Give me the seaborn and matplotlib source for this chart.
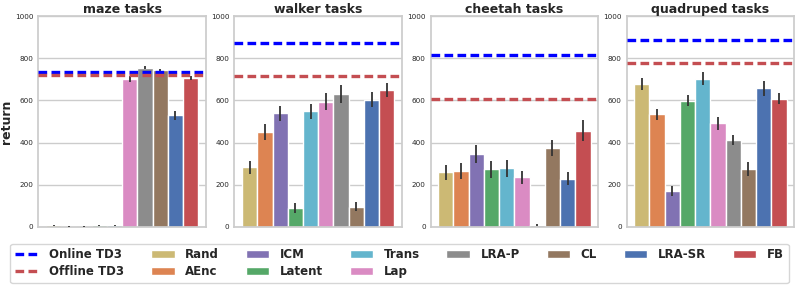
import matplotlib
matplotlib.use("Agg")
import matplotlib.pyplot as plt
from matplotlib.lines import Line2D
from matplotlib.patches import Patch
import seaborn as sns
import pandas as pd

# ---------------------------------------------------------------------------
methods = ["Rand", "AEnc", "ICM", "Latent", "Trans", "Lap", "LRA-P", "CL", "LRA-SR", "FB"]
domains = ["maze", "walker", "cheetah", "quadruped"]

maze_mean = [8, 3, 2, 7, 8, 703, 755, 745, 530, 708]
maze_err = [3, 1, 1, 3, 3, 15, 8, 6, 22, 10]
walker_mean = [282, 450, 539, 90, 549, 593, 631, 96, 603, 650]
walker_err = [30, 38, 37, 25, 36, 40, 41, 20, 35, 33]
cheetah_mean = [259, 265, 345, 273, 278, 235, 9, 375, 229, 457]
cheetah_err = [35, 36, 43, 39, 39, 31, 3, 39, 30, 50]
quadruped_mean = [677, 535, 170, 599, 703, 491, 413, 274, 658, 609]
quadruped_err = [28, 26, 22, 26, 32, 32, 25, 32, 35, 24]

online_td3 = [733, 874, 815, 886]
offline_td3 = [720, 718, 609, 778]

# ---------------------------------------------------------------------------
deep = sns.color_palette("deep")
colors = [deep[8], deep[1], deep[4], deep[2], deep[9], deep[6], deep[7], deep[5], deep[0], deep[3]]
palette = dict(zip(methods, colors))

means = [maze_mean, walker_mean, cheetah_mean, quadruped_mean]
errs = [maze_err, walker_err, cheetah_err, quadruped_err]

sns.set_theme(style="whitegrid")

fig, axes = plt.subplots(1, 4, figsize=(7.99, 2.88), dpi=100)
fig.subplots_adjust(left=0.048, right=0.994, bottom=0.212, top=0.944, wspace=0.17)

for i, ax in enumerate(axes):
    df = pd.DataFrame({"method": methods, "return": means[i]})
    sns.barplot(data=df, x="method", y="return", hue="method", order=methods,
                hue_order=methods, palette=palette, width=1, dodge=False,
                saturation=1, errorbar=None, edgecolor="white", linewidth=1,
                legend=False, ax=ax)
    ax.errorbar(x=list(range(len(methods))), y=means[i], yerr=errs[i],
                fmt="none", ecolor="0.2", elinewidth=1.3, zorder=5)
    ax.axhline(online_td3[i], color="blue", ls="--", lw=2.4, dashes=(2.6, 1.3), zorder=6)
    ax.axhline(offline_td3[i], color=deep[3], ls="--", lw=2.4, dashes=(2.6, 1.3), zorder=6)

    ax.set_ylim(0, 1000)
    ax.set_yticks([0, 200, 400, 600, 800, 1000])
    ax.tick_params(axis="y", labelsize=5.2, pad=3.5, length=0)
    ax.set_xlim(-1, 10)
    ax.set_xticks([1, 3, 5, 7, 9])
    ax.set_xticklabels([])
    ax.tick_params(axis="x", length=0)
    ax.set_xlabel("")
    ax.set_ylabel("")
    ax.set_title(f"{domains[i]} tasks", fontsize=9, fontweight="bold", pad=2)

axes[0].set_ylabel("return", fontsize=9, fontweight="bold", labelpad=1.5)

handles = [Line2D([0], [0], color="blue", ls="--", lw=2.4, dashes=(2.6, 1.3)),
           Line2D([0], [0], color=deep[3], ls="--", lw=2.4, dashes=(2.6, 1.3))]
labels = ["Online TD3", "Offline TD3"]
for m in methods:
    handles.append(Patch(facecolor=palette[m], edgecolor="white"))
    labels.append(m)

fig.legend(handles, labels, ncol=8, loc="lower center", bbox_to_anchor=(0.5, 0.017),
           borderaxespad=0, prop={"weight": "bold", "size": 8.5}, frameon=True,
           columnspacing=2.25, handlelength=2.0, borderpad=0.4, labelspacing=0.35,
           handletextpad=0.9)

plt.savefig("out.png", dpi=100)
